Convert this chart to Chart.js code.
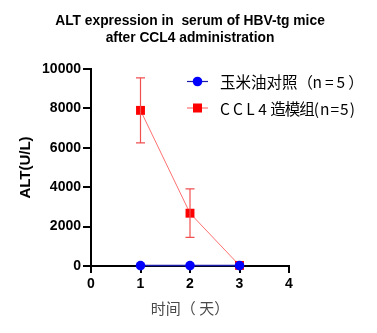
<!DOCTYPE html>
<html>
<head>
<meta charset="utf-8">
<script src="https://cdn.jsdelivr.net/npm/chart.js@4.4.1/dist/chart.umd.min.js"></script>
<style>
  html, body { margin: 0; padding: 0; background: #fff; }
  #wrap { width: 377px; height: 333px; position: relative; }
</style>
</head>
<body>
<div id="wrap"><canvas id="c" width="377" height="333"></canvas></div>
<script>
// Days after CCL4 injection
const days = [1, 2, 3];
// Mean ALT (U/L) per group
const controlMean = [20, 20, 20];
const ccl4Mean = [7900, 2680, 30];
// Standard deviation per group
const controlSd = [0, 0, 0];
const ccl4Sd = [1650, 1230, 0];
// Axis ticks
const xTicks = [0, 1, 2, 3, 4];
const yTicks = [0, 2000, 4000, 6000, 8000, 10000];

const titleLines = ['ALT expression in  serum of HBV-tg mice', 'after CCL4 administration'];
const labels = ['玉米油对照（ n=5）', 'CCL4造模组(n=5)'];
// Legend text split into runs with their own letter spacing
const labelRuns = [
  [['玉米油对照', 0], ['（ ', -2], ['n=5', 3], ['）', 0]],
  [['CCL4', 3.5], ['造模组', -1], ['(n=5)', 1]]
];

const toPoints = (xs, ys) => xs.map((x, i) => ({ x, y: ys[i] }));

// Vertical error bars with caps, drawn from the dataset's sd array
const errorBars = {
  id: 'errorBars',
  afterDatasetsDraw(chart) {
    const { ctx, scales: { x, y } } = chart;
    chart.data.datasets.forEach(ds => {
      if (!ds.sd) return;
      ctx.save();
      ctx.strokeStyle = ds.errorColor;
      ctx.lineWidth = 1.2;
      ds.data.forEach((p, i) => {
        const sd = ds.sd[i];
        if (!sd) return;
        const px = x.getPixelForValue(p.x);
        const top = y.getPixelForValue(p.y + sd);
        const bot = y.getPixelForValue(p.y - sd);
        ctx.beginPath();
        ctx.moveTo(px, top); ctx.lineTo(px, bot);
        ctx.moveTo(px - 4.5, top); ctx.lineTo(px + 4.5, top);
        ctx.moveTo(px - 4.5, bot); ctx.lineTo(px + 4.5, bot);
        ctx.stroke();
      });
      ctx.restore();
    });
  }
};

// Two-line centred title and legend block at the upper right
const annotations = {
  id: 'annotations',
  afterDraw(chart) {
    const { ctx } = chart;
    ctx.save();
    ctx.fillStyle = '#000';
    ctx.font = 'bold 13.8px "Liberation Sans", Arial, sans-serif';
    ctx.textAlign = 'center';
    ctx.textBaseline = 'middle';
    ctx.fillText(titleLines[0], 190, 21);
    ctx.fillText(titleLines[1], 190, 38);

    const rows = [81.5, 108];
    chart.data.datasets.forEach((ds, i) => {
      const yy = rows[i];
      ctx.strokeStyle = ds.borderColor;
      ctx.lineWidth = 1.2;
      ctx.beginPath();
      ctx.moveTo(187, yy); ctx.lineTo(208, yy);
      ctx.stroke();
      ctx.fillStyle = ds.pointBackgroundColor;
      if (ds.pointStyle === 'rect') {
        ctx.fillRect(197.5 - 4.5, yy - 4.5, 9, 9);
      } else {
        ctx.beginPath();
        ctx.arc(197.5, yy, 4.8, 0, Math.PI * 2);
        ctx.fill();
      }
      ctx.fillStyle = '#000';
      ctx.textAlign = 'left';
      ctx.font = '15.5px "Noto Sans CJK SC", "Liberation Sans", sans-serif';
      let tx = 220;
      labelRuns[i].forEach(([str, sp]) => {
        ctx.letterSpacing = sp + 'px';
        ctx.fillText(str, tx, yy + 1);
        tx += ctx.measureText(str).width;
      });
      ctx.letterSpacing = '0px';
    });
    ctx.restore();
  }
};

new Chart(document.getElementById('c'), {
  type: 'line',
  data: {
    datasets: [
      {
        label: labels[0],
        data: toPoints(days, controlMean),
        sd: controlSd,
        borderColor: '#1a1aa8',
        borderWidth: 1.5,
        pointStyle: 'circle',
        pointRadius: 4.8,
        pointBackgroundColor: '#0000ff',
        pointBorderColor: '#0000ff',
        pointBorderWidth: 0,
        clip: false,
        order: 1
      },
      {
        label: labels[1],
        data: toPoints(days, ccl4Mean),
        sd: ccl4Sd,
        errorColor: '#f05050',
        borderColor: '#ff7070',
        borderWidth: 1,
        pointStyle: 'rect',
        pointRadius: 6.3,
        pointBackgroundColor: '#ff0000',
        pointBorderColor: '#ff0000',
        pointBorderWidth: 0,
        clip: false,
        order: 2
      }
    ]
  },
  options: {
    responsive: false,
    animation: false,
    devicePixelRatio: 1,
    layout: { padding: { left: 0, right: 88, top: 69, bottom: 0 } },
    plugins: { legend: { display: false }, tooltip: { enabled: false }, title: { display: false } },
    scales: {
      x: {
        type: 'linear',
        min: 0, max: 4,
        afterBuildTicks: s => { s.ticks = xTicks.map(v => ({ value: v })); },
        afterFit: s => { s.height = 67; },
        ticks: {
          color: '#000',
          padding: 3,
          callback: v => String(v),
          font: { family: '"Liberation Sans", Arial, sans-serif', size: 14, weight: 'bold' }
        },
        grid: { drawOnChartArea: false, drawTicks: true, tickLength: 7, color: '#000', lineWidth: 2 },
        border: { display: true, color: '#000', width: 2 },
        title: {
          display: true,
          text: '时间（ 天）',
          color: '#4a4a4a',
          padding: { top: 0, bottom: 16 },
          font: { family: '"Noto Sans CJK SC", sans-serif', size: 15 }
        }
      },
      y: {
        min: 0, max: 10000,
        afterBuildTicks: s => { s.ticks = yTicks.map(v => ({ value: v })); },
        afterFit: s => { s.width = 91; },
        ticks: {
          color: '#000',
          padding: 2,
          callback: v => String(v),
          font: { family: '"Liberation Sans", Arial, sans-serif', size: 14, weight: 'bold' }
        },
        grid: { drawOnChartArea: false, drawTicks: true, tickLength: 8, color: '#000', lineWidth: 2 },
        border: { display: true, color: '#000', width: 2 },
        title: {
          display: true,
          text: 'ALT(U/L)',
          color: '#000',
          padding: { top: 17, bottom: 0 },
          font: { family: '"Liberation Sans", Arial, sans-serif', size: 15, weight: 'bold' }
        }
      }
    }
  },
  plugins: [errorBars, annotations]
});
</script>
</body>
</html>
